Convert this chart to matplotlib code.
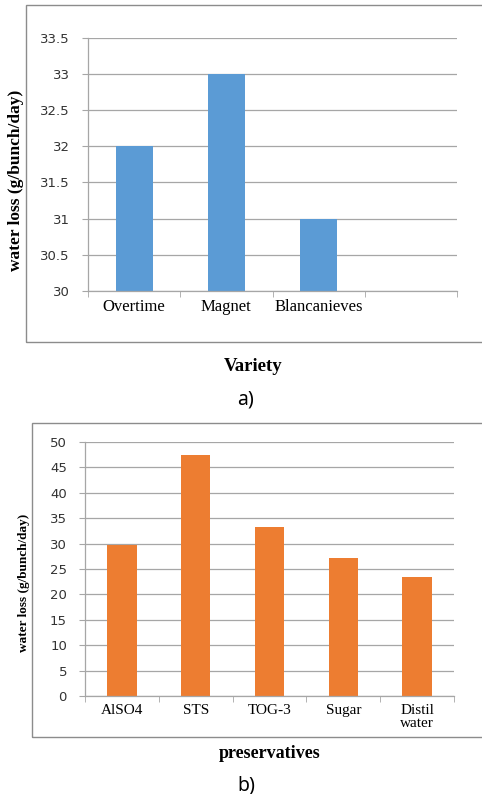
# Water loss by variety and by preservative

import matplotlib.pyplot as plt
from matplotlib.patches import Rectangle

# Data
varieties = ["Overtime", "Magnet", "Blancanieves", ""]
variety_loss = [32, 33, 31, None]
variety_ticks = [30, 30.5, 31, 31.5, 32, 32.5, 33, 33.5]

preservatives = ["AlSO4", "STS", "TOG-3", "Sugar", "Distil\nwater"]
preservative_loss = [29.7, 47.4, 33.3, 27.2, 23.4]
preservative_ticks = [0, 5, 10, 15, 20, 25, 30, 35, 40, 45, 50]

blue = "#5B9BD5"
orange = "#ED7D31"
gray = "#A6A6A6"
serif = "Liberation Serif"

W, H = 482, 794
fig = plt.figure(figsize=(W / 100, H / 100), dpi=100)


def fx(px):
    return px / W


def fy(py):
    return 1 - py / H


def style_axis(ax, cats, ticks, ylim, cat_size, tick_size, ypad):
    n = len(cats)
    ax.set_xlim(-0.5, n - 0.5)
    ax.set_ylim(*ylim)
    ax.set_yticks(ticks)
    ax.set_yticklabels([("%g" % t) for t in ticks], fontsize=tick_size,
                       family="DejaVu Sans", color="#333333")
    ax.set_xticks(range(n))
    ax.set_xticklabels(cats, family=serif, fontsize=cat_size, linespacing=1.0)
    ax.set_xticks([i - 0.5 for i in range(n + 1)], minor=True)
    ax.tick_params(axis="x", which="major", length=0, pad=6)
    ax.tick_params(axis="x", which="minor", length=4, color=gray, direction="out")
    ax.tick_params(axis="y", length=4, color=gray, direction="out", pad=ypad)
    ax.grid(axis="y", color=gray, linewidth=0.9)
    ax.set_axisbelow(True)
    for s in ["top", "right"]:
        ax.spines[s].set_visible(False)
    for s in ["left", "bottom"]:
        ax.spines[s].set_color(gray)
        ax.spines[s].set_linewidth(0.9)


# outer chart boxes
for x0, y0, y1 in [(26, 5, 342), (32, 423, 737)]:
    fig.patches.append(Rectangle((fx(x0), fy(y1)), 1.2, fy(y0) - fy(y1),
                                 transform=fig.transFigure, fill=False,
                                 edgecolor="#8C8C8C", linewidth=1.0))

# a) varieties
ax1 = fig.add_axes([fx(88), fy(290.7), fx(457) - fx(88), fy(38) - fy(290.7)])
vals = [v if v is not None else 0 for v in variety_loss]
ax1.bar(range(len(varieties)), vals, width=0.4, color=blue)
style_axis(ax1, varieties, variety_ticks, (30, 33.5), 12, 9.5, 9)
fig.text(fx(16), fy(180), "water loss (g/bunch/day)", rotation=90, ha="center",
         va="center", family=serif, fontweight="bold", fontsize=12.5)
fig.text(fx(253), fy(367), "Variety", ha="center", va="center", family=serif,
         fontweight="bold", fontsize=13.5)
fig.text(fx(246), fy(400), "a)", ha="center", va="center", family="Noto Sans",
         fontsize=14)

# b) preservatives
ax2 = fig.add_axes([fx(85), fy(696), fx(454) - fx(85), fy(442) - fy(696)])
ax2.bar(range(len(preservatives)), preservative_loss, width=0.4, color=orange)
style_axis(ax2, preservatives, preservative_ticks, (0, 50), 11, 9.5, 9)
fig.text(fx(24), fy(583), "water loss (g/bunch/day)", rotation=90, ha="center",
         va="center", family=serif, fontweight="bold", fontsize=9.5)
fig.text(fx(270), fy(754), "preservatives", ha="center", va="center", family=serif,
         fontweight="bold", fontsize=13)
fig.text(fx(246), fy(785), "b)", ha="center", va="center", family="Noto Sans",
         fontsize=14)

fig.savefig("out.png", dpi=100)
